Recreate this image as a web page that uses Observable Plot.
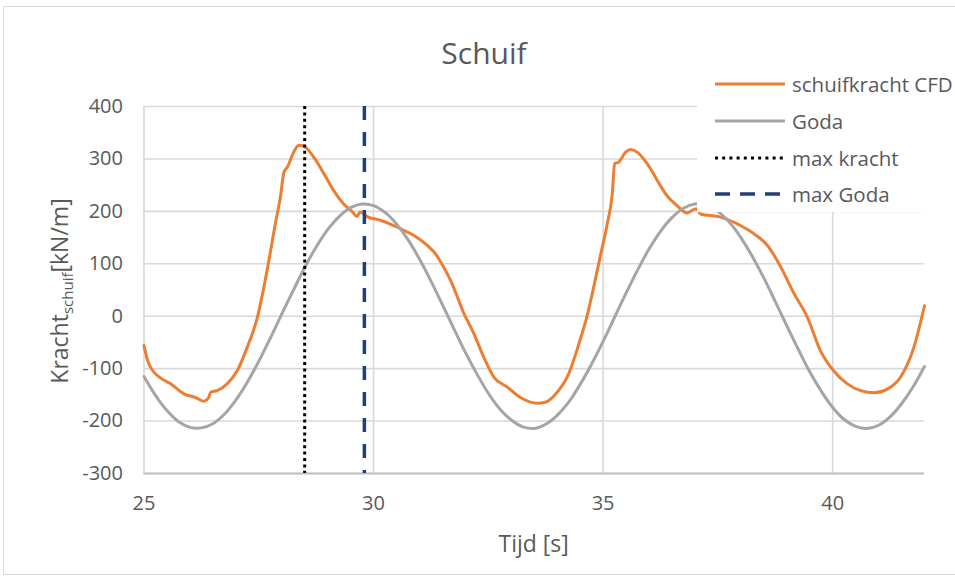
<!DOCTYPE html>
<html>
<head>
<meta charset="utf-8">
<script src="https://cdn.jsdelivr.net/npm/d3@7"></script>
<script src="https://cdn.jsdelivr.net/npm/@observablehq/plot@0.6"></script>
<style>
  html, body { margin: 0; padding: 0; background: #fff; }
  #chart { position: relative; width: 955px; height: 581px; overflow: hidden; font-family: "Open Sans", sans-serif; }
  #frame { position: absolute; left: 3px; top: 6px; width: 960px; height: 569px; border: 1.5px solid #d9d9d9; box-sizing: border-box; }
  #chart > svg { position: absolute; left: 0; top: 0; }
  #legend { position: absolute; left: 697px; top: 65px; width: 258px; height: 147px; background: #fff; }
  #legend .row { position: absolute; left: 0; height: 30px; display: flex; align-items: center; }
  #legend .row svg { position: static; margin-left: 18px; flex: none; }
  #legend .row span { margin-left: 7px; font-size: 20.5px; color: #595959; white-space: nowrap; line-height: 30px; }
</style>
</head>
<body>
<div id="chart"><div id="frame"></div></div>
<script>
// Shear force time series (CFD) and Goda design curve, kN/m over time in s
const cfdTime  = [25.00, 25.08, 25.20, 25.35, 25.58, 25.87, 26.12, 26.30, 26.41, 26.45, 26.59, 26.81,
                  27.03, 27.25, 27.47, 27.68, 27.86, 27.97, 28.05, 28.12, 28.26, 28.37, 28.46, 28.52,
                  28.70, 28.92, 29.13, 29.35, 29.54, 29.64, 29.71, 29.79, 29.86, 30.15, 30.44, 30.66,
                  30.88, 31.17, 31.35, 31.46, 31.68, 31.97, 32.19, 32.40, 32.62, 32.91, 33.20, 33.57,
                  33.74, 34.00, 34.25, 34.44, 34.51, 34.65, 34.73, 34.95, 35.09, 35.20, 35.25, 35.34,
                  35.49, 35.60, 35.74, 35.96, 36.18, 36.39, 36.61, 36.83, 36.94, 37.03, 37.12, 37.56,
                  37.99, 38.29, 38.58, 38.87, 39.16, 39.45, 39.73, 40.02, 40.32, 40.61, 40.90, 41.19,
                  41.48, 41.77, 42.00];
const cfdForce = [-56, -85, -105, -117, -129, -148, -155, -162, -155, -145, -142, -129,
                  -104, -59, -2, 87, 176, 227, 275, 284, 313, 326, 325, 322,
                  303, 272, 240, 214, 199, 190, 199, 195, 190, 183, 173, 164,
                  154, 135, 119, 104, 68, 5, -34, -78, -116, -135, -155, -166,
                  -164, -145, -110, -62, -42, 0, 30, 119, 176, 234, 291, 294,
                  313, 318, 313, 291, 259, 230, 211, 197, 202, 205, 195, 189,
                  173, 157, 135, 94, 43, -2, -65, -104, -129, -142, -146, -139,
                  -116, -59, 20];

const godaTime  = [25.00, 25.25, 25.50, 25.75, 26.00, 26.25, 26.50, 26.75, 27.00, 27.25, 27.50, 27.75,
                   28.00, 28.25, 28.50, 28.75, 29.00, 29.25, 29.50, 29.75, 30.00, 30.25, 30.50, 30.75,
                   31.00, 31.25, 31.50, 31.75, 32.00, 32.25, 32.50, 32.75, 33.00, 33.25, 33.50, 33.75,
                   34.00, 34.25, 34.50, 34.75, 35.00, 35.25, 35.50, 35.75, 36.00, 36.25, 36.50, 36.75,
                   37.00, 37.25, 37.50, 37.75, 38.00, 38.25, 38.50, 38.75, 39.00, 39.25, 39.50, 39.75,
                   40.00, 40.25, 40.50, 40.75, 41.00, 41.25, 41.50, 41.75, 42.00];
const godaForce = [-115, -151, -180, -201, -212, -213, -205, -187, -160, -126, -86, -42,
                   4, 49, 93, 132, 165, 190, 207, 214, 211, 198, 176, 146,
                   109, 67, 22, -24, -69, -110, -147, -177, -198, -211, -214, -206,
                   -189, -164, -130, -91, -48, -2, 44, 88, 128, 162, 188, 206,
                   214, 212, 200, 179, 150, 114, 73, 28, -18, -63, -106, -143,
                   -174, -197, -210, -214, -208, -192, -167, -135, -96];

// Times of the force maxima
const maxKrachtTime = 28.5;
const maxGodaTime = 29.8;

const xTicks = [25, 30, 35, 40];
const yTicks = [-300, -200, -100, 0, 100, 200, 300, 400];

const seriesNames = ["schuifkracht CFD", "Goda", "max kracht", "max Goda"];
const title = "Schuif";
const xLabel = "Tijd [s]";

const cfd = cfdTime.map((t, i) => ({t, v: cfdForce[i]}));
const goda = godaTime.map((t, i) => ({t, v: godaForce[i]}));

const colors = {cfd: "#ED7D31", goda: "#A5A5A5", kracht: "#000000", maxGoda: "#203F7A"};
const textColor = "#595959";

const plot = Plot.plot({
  width: 955,
  height: 581,
  marginLeft: 143.5,
  marginRight: 31,
  marginTop: 106,
  marginBottom: 108,
  style: {fontFamily: "Open Sans", fontSize: "20px", color: textColor, background: "transparent"},
  x: {domain: [25, 42], label: null},
  y: {domain: [-300, 400], label: null},
  marks: [
    Plot.gridY(yTicks, {stroke: "#d9d9d9", strokeOpacity: 1, strokeWidth: 1.6}),
    Plot.gridX(xTicks, {stroke: "#d9d9d9", strokeOpacity: 1, strokeWidth: 1.6}),
    Plot.ruleY([-300], {stroke: "#bfbfbf", strokeWidth: 2}),
    Plot.axisY(yTicks, {tickSize: 0, tickPadding: 21, fill: textColor, fontSize: 20, tickFormat: d => String(d)}),
    Plot.axisX(xTicks, {tickSize: 0, tickPadding: 22, fill: textColor, fontSize: 20, tickFormat: d => String(d)}),
    Plot.line(cfd, {x: "t", y: "v", stroke: colors.cfd, strokeWidth: 3, curve: "monotone-x"}),
    Plot.line(goda, {x: "t", y: "v", stroke: colors.goda, strokeWidth: 3, curve: "catmull-rom"}),
    Plot.ruleX([maxKrachtTime], {stroke: colors.kracht, strokeWidth: 3, strokeDasharray: "3,3.4"}),
    Plot.ruleX([maxGodaTime], {stroke: colors.maxGoda, strokeWidth: 3.5, strokeDasharray: "14,12"})
  ]
});

const svg = d3.select(plot);
svg.append("text")
  .attr("x", 484).attr("y", 64)
  .attr("text-anchor", "middle")
  .attr("fill", textColor)
  .style("font-size", "30px")
  .text(title);

svg.append("text")
  .attr("x", 533.7).attr("y", 552)
  .attr("text-anchor", "middle")
  .attr("fill", textColor)
  .style("font-size", "23px")
  .text(xLabel);

const yTitle = svg.append("text")
  .attr("transform", "translate(68,291) rotate(-90)")
  .attr("text-anchor", "middle")
  .attr("fill", textColor)
  .style("font-size", "23px");
yTitle.append("tspan").text("Kracht");
yTitle.append("tspan").attr("dy", 5).style("font-size", "15px").text("schuif");
yTitle.append("tspan").attr("dy", -5).text("[kN/m]");

document.getElementById("chart").appendChild(plot);

// Legend box drawn over the upper right of the plot area
const legend = d3.select("#chart").append("div").attr("id", "legend");
const swatches = [
  {stroke: colors.cfd, width: 3, dash: null},
  {stroke: colors.goda, width: 3, dash: null},
  {stroke: colors.kracht, width: 3, dash: "3,4.2"},
  {stroke: colors.maxGoda, width: 3.5, dash: "15,10"}
];
const rowCenters = [19, 56, 92.5, 129];
seriesNames.forEach((name, i) => {
  const row = legend.append("div").attr("class", "row").style("top", (rowCenters[i] - 15) + "px");
  const s = row.append("svg").attr("width", 70).attr("height", 10);
  const ln = s.append("line").attr("x1", 0).attr("x2", 70).attr("y1", 5).attr("y2", 5)
    .attr("stroke", swatches[i].stroke).attr("stroke-width", swatches[i].width);
  if (swatches[i].dash) ln.attr("stroke-dasharray", swatches[i].dash);
  row.append("span").text(name);
});
</script>
</body>
</html>
